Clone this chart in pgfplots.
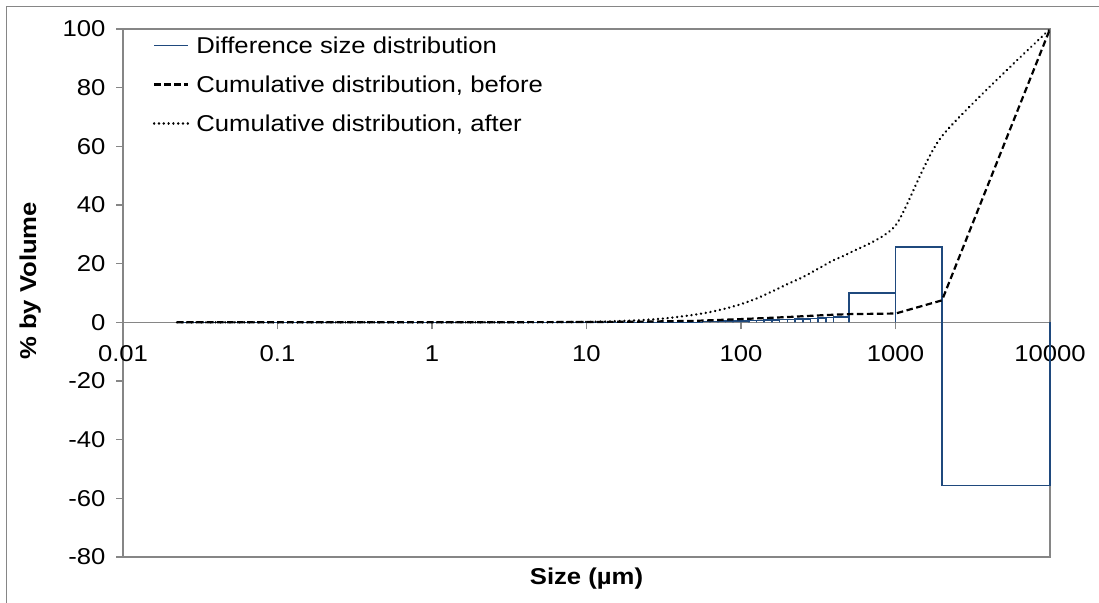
\documentclass[border=0pt]{standalone}
\usepackage{pgfplots}
\pgfplotsset{compat=1.18}
\usepackage{fontspec}
\setmainfont{Liberation Sans}[FakeStretch=1.12]

\definecolor{axisgray}{RGB}{134,134,134}
\definecolor{diffblue}{RGB}{31,73,125}

\begin{document}
\begin{tikzpicture}
\path[use as bounding box] (-123bp,-46bp) rectangle (976bp,557bp);
\draw[axisgray, line width=1bp] (-116bp,-46bp) -- (-116bp,550bp) -- (976bp,550bp);
\begin{axis}[
  at={(0,0)}, anchor=south west,
  scale only axis, width=927bp, height=528bp,
  xmode=log, xmin=0.01, xmax=10000, ymin=-80, ymax=100,
  axis x line=middle, axis y line=left,
  axis line style={draw=axisgray, line width=1.2bp, -},
  xtick={0.01,0.1,1,10,100,1000,10000},
  xticklabels={0.01,0.1,1,10,100,1000,10000},
  xminorticks=false,
  ytick={-80,-60,...,100},
  tick style={draw=axisgray, line width=1.2bp},
  major tick length=7bp,
  xtick align=outside, ytick align=outside,
  hide obscured x ticks=false, hide obscured y ticks=false,
  /pgf/number format/assume math mode=true,
  ticklabel style={font=\fontsize{23}{27}\selectfont},
  xticklabel style={anchor=base, yshift=-32bp},
  yticklabel style={anchor=east, xshift=-7bp},
  xlabel={\textbf{Size (µm)}},
  ylabel={\textbf{\% by Volume}},
  label style={font=\fontsize{23}{27}\selectfont},
  xlabel style={at={(axis description cs:0.5,0)}, anchor=center, yshift=-22bp},
  ylabel style={at={(axis description cs:-0.1,0.523)}, anchor=center},
  legend style={draw=none, fill=none, at={(axis description cs:0.032,0.99)}, anchor=north west,
    font=\fontsize{23}{27}\selectfont, row sep=17bp, column sep=5bp, inner sep=0pt},
  legend cell align=left,
  legend image code/.code={\draw[#1] (0bp,0bp) -- (34bp,0bp);},
  clip=false,
]
\draw[axisgray, line width=1.2bp] (rel axis cs:0,1) -- (rel axis cs:1,1) -- (rel axis cs:1,0) -- (rel axis cs:0,0);

% difference between the two size distributions, drawn as bin outlines
\addplot[diffblue, line width=1.6bp] coordinates {
 (0.0224,0) (56.2,0)
 (56.2,0.30) (63.1,0.30) (63.1,0)
 (63.1,0.35) (70.8,0.35) (70.8,0)
 (70.8,0.40) (79.4,0.40) (79.4,0)
 (79.4,0.45) (89.1,0.45) (89.1,0)
 (89.1,0.50) (100,0.50) (100,0)
 (100,0.55) (112.2,0.55) (112.2,0)
 (112.2,0.60) (125.9,0.60) (125.9,0)
 (125.9,0.65) (141.3,0.65) (141.3,0)
 (141.3,0.70) (158.5,0.70) (158.5,0)
 (158.5,0.80) (177.8,0.80) (177.8,0)
 (177.8,0.90) (199.5,0.90) (199.5,0)
 (199.5,1.00) (223.9,1.00) (223.9,0)
 (223.9,1.10) (251.2,1.10) (251.2,0)
 (251.2,1.20) (281.8,1.20) (281.8,0)
 (281.8,1.35) (316.2,1.35) (316.2,0)
 (316.2,1.50) (354.8,1.50) (354.8,0)
 (354.8,1.65) (398.1,1.65) (398.1,0)
 (398.1,1.80) (501,1.80) (501,0)
 (501,9.9) (1000,9.9) (1000,0)
 (1000,25.6) (2000,25.6) (2000,0)
 (2000,-55.6) (10000,-55.6) (10000,0)
};
\addlegendentry{Difference size distribution}

\addplot[black, line width=2.2bp, dash pattern=on 6.5bp off 3.5bp] coordinates {
 (0.0224,0) (1,0) (10,0.1) (20,0.2) (50,0.5) (100,1.1) (200,1.8)
 (300,2.3) (400,2.6) (501,2.8) (1000,3.0) (2000,7.5) (10000,100)
};
\addlegendentry{Cumulative distribution, before}

\addplot[black, line width=2.6bp, line cap=round, dash pattern=on 0.01bp off 4.8bp, smooth, tension=0.4] coordinates {
 (0.0224,0) (1,0) (5,0.02) (10,0.15) (12.6,0.25) (15.8,0.4) (20,0.6)
 (25.1,0.9) (31.6,1.3) (39.8,1.9) (50.1,2.6) (63.1,3.5) (79.4,4.7)
 (100,6.2) (125.9,8.1) (158.5,10.5) (199.5,13.0) (251.2,15.4)
 (316.2,18.3) (398.1,21.2) (501,23.6) (1000,33) (2000,63.5) (10000,100)
};
\addlegendentry{Cumulative distribution, after}
\end{axis}
\end{tikzpicture}
\end{document}
